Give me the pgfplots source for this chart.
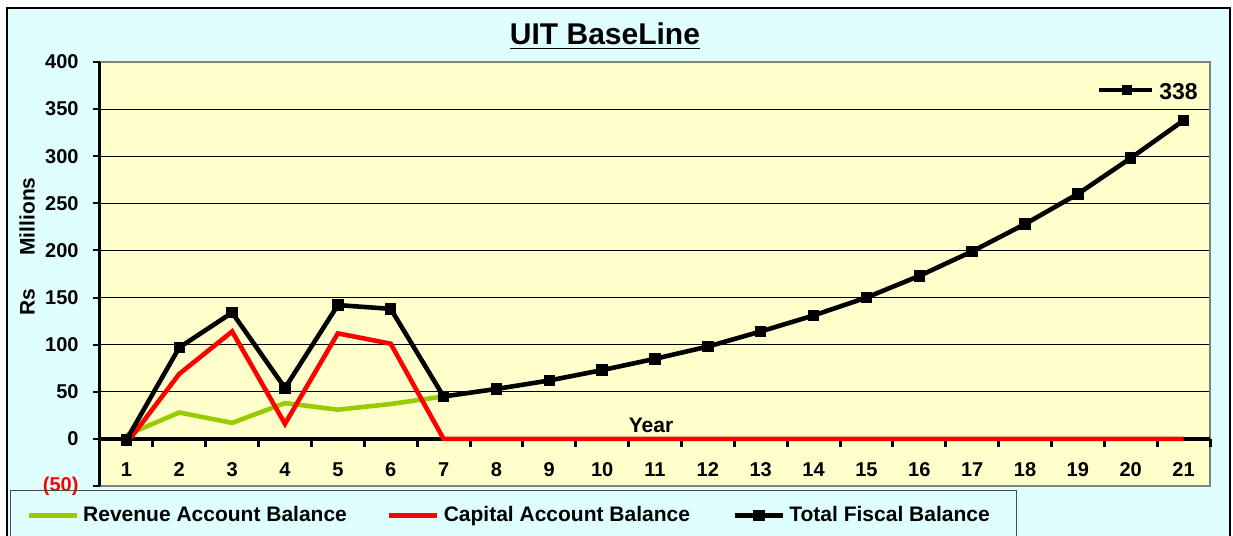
\documentclass[border=0pt]{standalone}
\usepackage{fontspec}
\setmainfont{Liberation Sans}
\usepackage{pgfplots}
\pgfplotsset{compat=1.18}
\definecolor{outerbg}{HTML}{DFFFFF}
\definecolor{plotbg}{HTML}{FFFFCC}
\definecolor{revgreen}{HTML}{99CC00}
\definecolor{frame}{HTML}{808080}
% small legend key (line with square marker) used in the data label
\newcommand{\keysym}{\rlap{\rule[0.33em]{26.5pt}{1.8pt}}\hspace{11.25pt}\rule[\dimexpr0.33em-1.6pt\relax]{5pt}{5pt}\hspace{10.25pt}}

\begin{document}
\begin{tikzpicture}[x=0.5pt,y=0.5pt]
\fill[outerbg] (7,-20) rectangle (1230,528);
\draw[black, line width=0.8pt] (7,-20) rectangle (1230,528);

% title and y label
\node[anchor=base, font=\fontsize{15}{17}\selectfont\bfseries] at (605,491) {\underline{UIT BaseLine}};
\node[rotate=90, font=\fontsize{10.5}{12}\selectfont\bfseries] at (27,289.5) {Rs\hspace{16.5pt}Millions};

\begin{axis}[
    at={(50pt,25pt)}, anchor=south west,
    width=555pt, height=212pt, scale only axis,
    xmin=0.5, xmax=21.5, ymin=-50, ymax=400,
    clip=false,
    axis background/.style={fill=plotbg},
    axis line style={draw=none},
    xtick style={draw=none}, ytick style={draw=none},
    xtick={1,...,21},
    ytick={-50,0,50,...,400},
    yticklabels={{\textcolor{red}{(50)}},0,50,100,150,200,250,300,350,400},
    ymajorgrids,
    grid style={black, line width=0.5pt},
    /pgf/number format/assume math mode=true,
    tick label style={font=\fontsize{10}{12}\selectfont\bfseries},
    xticklabel style={anchor=center, yshift=8pt},
    yticklabel style={xshift=-7.2pt},
    xlabel={Year},
    xlabel style={at={(axis description cs:0.4964,0.1439)}, anchor=center,
        font=\fontsize{10.5}{12}\selectfont\bfseries},
    legend columns=3,
    legend cell align=left,
    legend style={at={(-0.08108,-0.00943)}, anchor=north west,
        fill=none, draw=black!70, line width=0.6pt,
        inner xsep=8pt, inner ysep=6pt,
        font=\fontsize{10.5}{12}\selectfont\bfseries,
        /tikz/every even column/.append style={column sep=0pt}},
    legend image code/.code={
        \draw[mark repeat=2, mark phase=2, #1] plot coordinates {(0pt,0pt) (12pt,0pt) (24pt,0pt)};
    },
]
% frame, zero line, axis line and tick marks (drawn before the series)
\draw[frame, line width=1pt] (rel axis cs:0,1) -- (rel axis cs:1,1) -- (rel axis cs:1,0) -- (rel axis cs:0,0);
\draw[black, line width=2.2pt] (axis cs:0.5,0) -- (axis cs:21.5,0);
\draw[black, line width=1.5pt] (axis cs:0.5,-50) -- (axis cs:0.5,400);
\pgfplotsinvokeforeach{-50,0,50,100,150,200,250,300,350,400}{
  \draw[black, line width=1pt] (axis cs:0.5,#1) -- ++(-3.5pt,0pt);
}
\pgfplotsinvokeforeach{1.5,2.5,...,21.5}{
  \draw[black, line width=1.5pt] (axis cs:#1,0) -- ++(0pt,-4pt);
}

\addplot[revgreen, line width=2.3pt] coordinates {
  (1,4) (2,28) (3,17) (4,38) (5,31) (6,37) (7,45)
};
\addlegendentry{\makebox[150pt][l]{Revenue Account Balance}}

\addplot[red, line width=2.3pt] coordinates {
  (1,-5) (2,69) (3,114) (4,16) (5,112) (6,101) (7,0) (8,0) (9,0) (10,0)
  (11,0) (12,0) (13,0) (14,0) (15,0) (16,0) (17,0) (18,0) (19,0) (20,0) (21,0)
};
\addlegendentry{\makebox[142.5pt][l]{Capital Account Balance}}

\addplot[black, line width=2.3pt, mark=square*, mark size=2.6pt,
    mark options={solid, line width=0.5pt}] coordinates {
  (1,-1) (2,97) (3,134) (4,54) (5,142) (6,138) (7,45) (8,53) (9,62) (10,73)
  (11,85) (12,98) (13,114) (14,131) (15,150) (16,173) (17,199) (18,228)
  (19,260) (20,298) (21,338)
} node[pos=1, anchor=center, xshift=-17.5pt, yshift=14.5pt,
       font=\fontsize{11.5}{13}\selectfont\bfseries, inner sep=0pt]
  {\keysym\hspace{3.5pt}338};
\addlegendentry{\makebox[103.5pt][l]{Total Fiscal Balance}}
\end{axis}
\pgfresetboundingbox
\useasboundingbox (0,0) rectangle (1233,536);
\end{tikzpicture}
\end{document}
